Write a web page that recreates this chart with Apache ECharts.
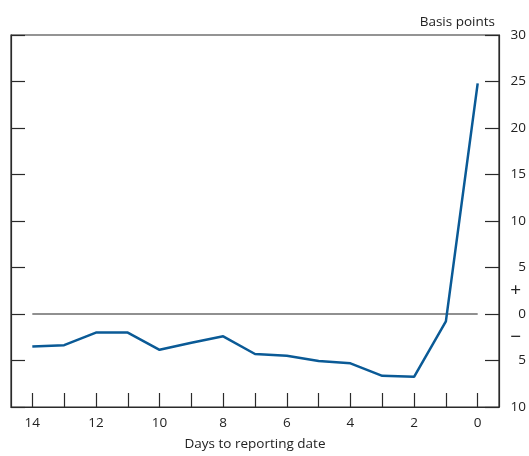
<!DOCTYPE html>
<html><head><meta charset="utf-8">
<script src="https://cdn.jsdelivr.net/npm/echarts@6/dist/echarts.min.js"></script>
<style>html,body{margin:0;padding:0;background:#fff}#c{width:529px;height:456px}</style>
</head><body><div id="c"></div>
<script>
var days = [14,13,12,11,10,9,8,7,6,5,4,3,2,1,0];
var values = [-3.5,-3.35,-2.0,-2.0,-3.85,-3.1,-2.4,-4.3,-4.5,-5.05,-5.3,-6.65,-6.75,-0.8,24.8];
var yTicks = [-10,-5,0,5,10,15,20,25,30];
var yLabels = [-10,-5,-2.5,0,2.5,5,10,15,20,25,30];
var xLabels = [14,12,10,8,6,4,2,0];
var zeroLine = [[14,0],[0,0]];

var font = 'Open Sans';
var fs = 13.5;
var axisColor = '#2a2a2a';
var chart = echarts.init(document.getElementById('c'));
var yCommon = {
  type:'value', min:-10, max:30, interval:5,
  splitLine:{show:false},
  axisLine:{show:true,onZero:false,lineStyle:{color:axisColor,width:1.2}},
  axisTick:{show:true,inside:true,length:14,customValues:yTicks,lineStyle:{color:axisColor,width:1.2}}
};
chart.setOption({
  animation:false,
  textStyle:{fontFamily:font},
  grid:{left:11,right:29,top:35,bottom:45,show:true,borderColor:axisColor,borderWidth:1.2},
  xAxis:{
    type:'value', min:-0.67, max:14.67, inverse:true,
    splitLine:{show:false},
    axisLine:{show:true,onZero:false,lineStyle:{color:axisColor,width:1.2}},
    axisTick:{show:true,inside:true,length:14,customValues:days,lineStyle:{color:axisColor,width:1.2}},
    axisLabel:{customValues:xLabels,color:'#222',fontSize:fs,fontFamily:font,margin:9},
    name:'Days to reporting date', nameLocation:'middle', nameGap:30,
    nameTextStyle:{color:'#222',fontSize:fs,fontFamily:font}
  },
  yAxis:[
    Object.assign({}, yCommon, {position:'left', axisLabel:{show:false}}),
    Object.assign({}, yCommon, {position:'right',
      axisLabel:{customValues:yLabels,color:'#222',fontSize:fs,fontFamily:font,align:'right',margin:27,
        formatter:function(v){ if(v===2.5) return '{s|+}'; if(v===-2.5) return '{s|\u2212}'; return String(Math.abs(v)); },
        rich:{s:{fontSize:19,fontFamily:font,color:'#222',padding:[0,5,0,0]}}},
      name:'Basis points', nameLocation:'end', nameGap:6,
      nameTextStyle:{color:'#222',fontSize:fs,fontFamily:font,align:'right',padding:[0,4,0,0]}
    })
  ],
  series:[
    {type:'line', data:zeroLine, yAxisIndex:1, symbol:'none', lineStyle:{color:'#222',width:1.2}, silent:true},
    {type:'line', data:days.map(function(d,i){return [d,values[i]];}), yAxisIndex:1, symbol:'none',
     lineStyle:{color:'#0a5a96',width:2.5}}
  ]
});
</script></body></html>
